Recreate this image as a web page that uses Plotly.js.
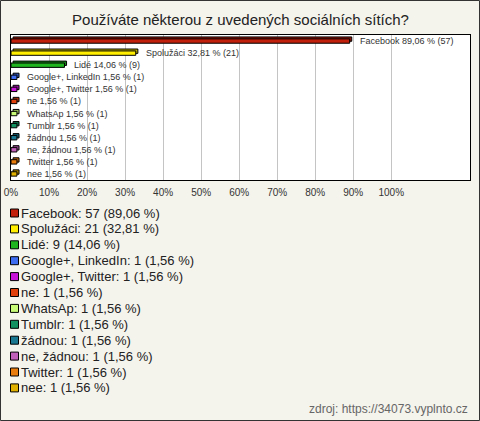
<!DOCTYPE html>
<html>
<head>
<meta charset="utf-8">
<script src="https://cdn.plot.ly/plotly-3.0.1.min.js"></script>
<style>
html,body{margin:0;padding:0;background:#f4f3ec;}
#chart{width:480px;height:421px;}
</style>
</head>
<body>
<div id="chart"></div>
<script>
const categories = ["Facebook","Spolužáci","Lidé","Google+, LinkedIn","Google+, Twitter","ne","WhatsAp","Tumblr","žádnou","ne, žádnou","Twitter","nee"];
const counts = [57,21,9,1,1,1,1,1,1,1,1,1];
const percents = [89.06,32.81,14.06,1.56,1.56,1.56,1.56,1.56,1.56,1.56,1.56,1.56];
const colors = ["#c0200c","#ffee00","#1fb51f","#3d6cf0","#c814d8","#e0400c","#c8fc78","#119060","#1a7890","#c060b8","#e87c0c","#e0b000"];
const tickVals = [0,10,20,30,40,50,60,70,80,90,100];

function fmt(v){return v.toFixed(2).replace('.', ',');}
function darken(hex,f){
  const n=parseInt(hex.slice(1),16);
  const r=Math.round(((n>>16)&255)*f), g=Math.round(((n>>8)&255)*f), b=Math.round((n&255)*f);
  return 'rgb('+r+','+g+','+b+')';
}

const W=480,H=421,L=11,R=10,T=35,B=241;
const plotW=W-L-R, plotH=H-T-B;
const px2x = p => (p-L)/plotW;
const py2y = p => (H-B-p)/plotH;

const barW=0.36, depthY=0.16, depthX=0.55;

const back = {
  type:'bar', orientation:'h', y:categories, x:percents, base:depthX,
  width:barW, offset:-barW/2-depthY,
  marker:{color:colors.map(c=>darken(c,0.75)), line:{color:'#000',width:1}},
  hoverinfo:'skip', showlegend:false
};
const front = {
  type:'bar', orientation:'h', y:categories, x:percents,
  width:barW, offset:-barW/2,
  marker:{color:colors, line:{color:'#000',width:1}},
  showlegend:false
};

const annotations = [];
categories.forEach((c,i)=>{
  annotations.push({x:percents[i], y:c, xref:'x', yref:'y', text:c+' '+fmt(percents[i])+' % ('+counts[i]+')',
    xanchor:'left', yanchor:'middle', xshift:8, showarrow:false,
    font:{family:'Liberation Sans, Arial, sans-serif', size:9, color:'#333'}});
});
const shapes = [];
categories.forEach((c,i)=>{
  const yc = 213 + 15.9*i;
  annotations.push({x:px2x(19), y:py2y(yc), xref:'paper', yref:'paper',
    text:c+': '+counts[i]+' ('+fmt(percents[i])+' %)', xanchor:'left', yanchor:'middle', showarrow:false,
    font:{family:'Liberation Sans, Arial, sans-serif', size:13, color:'#222'}});
  shapes.push({type:'rect', xref:'paper', yref:'paper', x0:px2x(10.5), x1:px2x(18.5), y0:py2y(yc+4), y1:py2y(yc-4),
    fillcolor:colors[i], line:{color:'#000',width:1}});
});
annotations.push({x:px2x(470), y:py2y(409), xref:'paper', yref:'paper', text:'zdroj: https://34073.vyplnto.cz',
  xanchor:'right', yanchor:'middle', showarrow:false,
  font:{family:'Liberation Sans, Arial, sans-serif', size:12, color:'#666'}});
shapes.push({type:'rect', xref:'paper', yref:'paper', x0:px2x(0.5), x1:px2x(479.5), y0:py2y(420.5), y1:py2y(0.5),
  line:{color:'#333',width:1}, fillcolor:'rgba(0,0,0,0)'});

const layout = {
  width:W, height:H,
  margin:{l:L,r:R,t:T,b:B,pad:0},
  paper_bgcolor:'#f4f3ec', plot_bgcolor:'#ffffff',
  title:{text:'Používáte některou z uvedených sociálních sítích?', x:0.5, xref:'paper', xanchor:'center',
    y:1-20/H, yref:'container', yanchor:'middle',
    font:{family:'Liberation Sans, Arial, sans-serif', size:15, color:'#222'}},
  barmode:'overlay',
  xaxis:{range:[0,120.7], tickvals:tickVals, ticktext:tickVals.map(v=>v+'%'), showgrid:true, gridcolor:'#c4c4c4', gridwidth:1,
    zeroline:false, showline:true, mirror:true, linecolor:'#000', linewidth:1,
    ticks:'outside', ticklen:3, tickcolor:'rgba(0,0,0,0)',
    tickfont:{family:'Liberation Sans, Arial, sans-serif', size:10, color:'#333'}, fixedrange:true},
  yaxis:{autorange:false, range:[11.5,-0.5], showticklabels:false, showgrid:false, zeroline:false,
    showline:true, mirror:true, linecolor:'#000', linewidth:1, ticks:'', fixedrange:true},
  annotations:annotations, shapes:shapes,
  showlegend:false
};

Plotly.newPlot('chart',[back,front],layout,{displayModeBar:false,staticPlot:true});
</script>
</body>
</html>
